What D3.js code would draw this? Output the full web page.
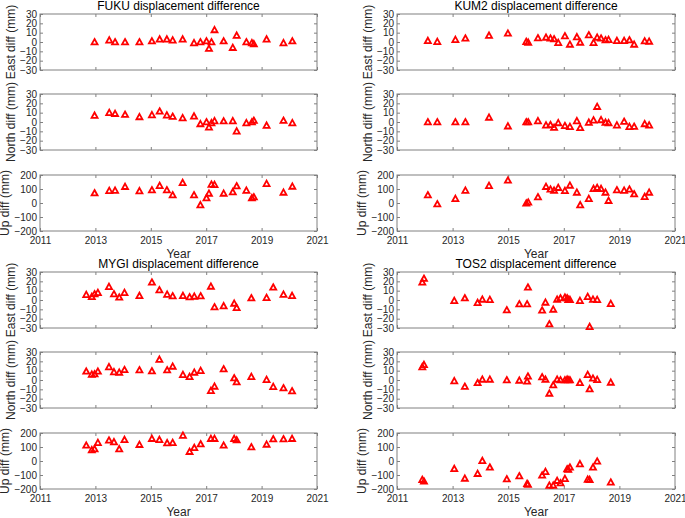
<!DOCTYPE html>
<html>
<head>
<meta charset="utf-8">
<script src="https://cdn.jsdelivr.net/npm/d3@7"></script>
<style>
  body { margin: 0; background: #fff; }
  svg { display: block; font-family: "Liberation Sans", Arial, sans-serif; }
  .tick text { fill: #262626; font-size: 10px; }
  .tick line { stroke: #808080; }
</style>
</head>
<body>
<svg id="chart" width="685" height="518"></svg>
<script>
// Station data (decimal years, mm)
const fukuYears = [2012.97, 2013.50, 2013.71, 2014.07, 2014.59, 2015.04, 2015.32, 2015.58, 2015.79, 2016.15,
  2016.56, 2016.79, 2017.01, 2017.10, 2017.19, 2017.30, 2017.63, 2017.96, 2018.10, 2018.45,
  2018.65, 2018.72, 2019.18, 2019.79, 2020.11];
const fukuEast = [0, 2, 0, 0, 0, 1, 3, 3, 2, 3, -1, 0, 1, -7, 0, 13, 1, -6, 7, 0, -1, -2, 3, -1, 1];
const fukuNorth = [7, 10, 9, 8, 5.5, 7.6, 11.5, 7.3, 5.9, 4.4, 6.2, -2, 0, -5.5, -1, 1.2, 1, 1.2, -9.8, -1, 0, 1.6, -3.7, 1.6, -1];
const fukuUp = [71, 88, 90, 117, 86, 93, 124, 93, 57, 145, 57, -14, 36, 69, 133, 131, 69, 79, 121, 90, 36, 43, 138, 76, 119];

const kum2Years = [2012.11, 2012.45, 2013.10, 2013.46, 2014.31, 2014.99, 2015.65, 2015.72, 2016.07, 2016.36,
  2016.52, 2016.65, 2016.80, 2017.04, 2017.22, 2017.47, 2017.59, 2017.90, 2018.07, 2018.20,
  2018.34, 2018.50, 2018.61, 2018.91, 2019.17, 2019.36, 2019.53, 2019.91, 2020.07];
const kum2East = [1.4, 0.4, 2.5, 4, 7, 9.3, 0.4, -0.4, 4.3, 5, 4, 3.2, -0.7, 6.4, -2.5, 5.4, -0.4, 7.5, -0.7, 5,
  4, 2.1, 2.5, 1.4, 1.4, 2.1, -2.5, 1, 0.7];
const kum2North = [0, 0, 0, 0, 5, -4.4, 0, 0, 1.2, -3.4, -3, -5.9, -0.9, -4, -5, 1.2, -6.2, -0.5, 2, 16.5,
  2.3, -0.5, -0.9, -3.4, 0.5, -5, -4.8, -2, -3.4];
const kum2Up = [57, -7, 31, 90, 124, 162, -2, 5, 43, 117, 98, 90, 110, 88, 126, 76, -14, 31, 102, 110,
  102, 76, 17, 93, 90, 98, 64, 45, 76];

const mygiYears = [2012.67, 2012.87, 2012.97, 2013.09, 2013.49, 2013.67, 2013.86, 2014.05, 2014.59, 2015.04,
  2015.31, 2015.59, 2015.79, 2016.16, 2016.40, 2016.57, 2016.80, 2017.17, 2017.30, 2017.63,
  2018.01, 2018.10, 2018.63, 2019.18, 2019.42, 2019.79, 2020.10];
const mygiEast = [5.7, 3.6, 6.4, 7.9, 14.3, 6.4, 2.9, 7.9, 4.6, 19, 10.7, 6, 4.3, 4.6, 3.2, 3.9, 4.3, 14.6, -7.5, -6.4,
  -3.6, -8.2, 2.1, 2.5, 13.6, 6, 4.6];
const mygiNorth = [9.3, 6, 6.4, 9.3, 14, 8.6, 8.2, 11, 10.7, 9.6, 22, 10.7, 14.6, 5.7, 3.6, 8.2, 10, -11.4, -6.8, 11.8,
  2.1, -2.1, 3.6, 0.4, -7.1, -8.6, -11.8];
const mygiUp = [112, 79, 86, 131, 148, 136, 86, 152, 117, 160, 152, 129, 131, 183, 67, 95, 121, 160, 160, 112,
  160, 150, 100, 119, 157, 157, 160];

const tos2Years = [2011.91, 2011.97, 2013.06, 2013.44, 2013.90, 2014.07, 2014.34, 2014.95, 2015.40, 2015.68,
  2015.71, 2016.22, 2016.34, 2016.48, 2016.62, 2016.76, 2016.88, 2017.04, 2017.12, 2017.16,
  2017.22, 2017.58, 2017.86, 2017.93, 2018.05, 2018.20, 2018.69];
const tos2East = [19, 23, -0.7, 2.1, -2.9, 0.7, 0.4, -10.7, -4.3, -4.3, 13.6, -11, -2.5, -25.7, -10, 0.7, 2.1, 2.9, 2.1, 0.4,
  0.4, -0.7, 3.6, -28.6, 0.7, 0.4, -3.9];
const tos2North = [14, 16.4, -1, -7, -3, 0.7, 0.7, 0, -0.4, -1.4, 4, 3.2, 0.7, -14.3, -5.4, 0.7, 0, 0, 0.7, 0,
  0, -2.9, 5.7, -9.6, 1.8, 0.4, -2.5];
const tos2Up = [-133, -145, -55, -124, -90, 2, -45, -129, -107, -162, -167, -102, -76, -174, -174, -140, -157, -126, -57, -60,
  -45, -21, -131, -133, -45, -2, -152];

const stationNames = ["FUKU", "KUM2", "MYGI", "TOS2"];
const componentLabels = ["East diff (mm)", "North diff (mm)", "Up diff (mm)"];
const xTicks = [2011, 2013, 2015, 2017, 2019, 2021];
const enTicks = [-30, -20, -10, 0, 10, 20, 30];
const upTicks = [-200, -100, 0, 100, 200];

const stations = [
  { name: stationNames[0], years: fukuYears, comps: [fukuEast, fukuNorth, fukuUp] },
  { name: stationNames[1], years: kum2Years, comps: [kum2East, kum2North, kum2Up] },
  { name: stationNames[2], years: mygiYears, comps: [mygiEast, mygiNorth, mygiUp] },
  { name: stationNames[3], years: tos2Years, comps: [tos2East, tos2North, tos2Up] }
];

// layout of the 2x2 grid of stations, each with three stacked panels
const columns = [{ x0: 40, x1: 317 }, { x0: 397, x1: 675 }];
const groupTop = [0, 258];
const panelY = [[14, 70], [94, 150], [175, 231]];
const red = "#ff0000";
const boxColor = "#808080";

const svg = d3.select("#chart");

// triangle marker, same look as MATLAB '^'
const tri = "M0,-3L3,2.4L-3,2.4Z";

stations.forEach((st, si) => {
  const col = columns[si % 2];
  const top = groupTop[Math.floor(si / 2)];
  const g = svg.append("g");

  const x = d3.scaleLinear().domain([2011, 2021]).range([col.x0, col.x1]);

  // title
  g.append("text")
    .attr("x", (col.x0 + col.x1) / 2)
    .attr("y", top + 9.5)
    .attr("text-anchor", "middle")
    .attr("font-size", 12)
    .attr("fill", "#000")
    .text(`${st.name} displacement difference`);

  st.comps.forEach((vals, ci) => {
    const [py0, py1] = panelY[ci].map((v) => v + top);
    const isUp = ci === 2;
    const ticks = isUp ? upTicks : enTicks;
    const y = d3.scaleLinear().domain([ticks[0], ticks[ticks.length - 1]]).range([py1, py0]);

    const axes = g.append("g");

    // bottom axis (labels only on the Up panel)
    axes.append("g")
      .attr("transform", `translate(0, ${py1})`)
      .call(d3.axisBottom(x).tickValues(xTicks).tickSize(-3).tickSizeOuter(0).tickPadding(5.5)
        .tickFormat(isUp ? d3.format("d") : () => ""));
    // top axis, ticks only
    axes.append("g")
      .attr("transform", `translate(0, ${py0})`)
      .call(d3.axisTop(x).tickValues(xTicks).tickSize(-3).tickSizeOuter(0).tickFormat(() => ""));
    // left axis
    axes.append("g")
      .attr("transform", `translate(${col.x0}, 0)`)
      .call(d3.axisLeft(y).tickValues(ticks).tickSize(-3).tickSizeOuter(0).tickPadding(3));
    // right axis, ticks only
    axes.append("g")
      .attr("transform", `translate(${col.x1}, 0)`)
      .call(d3.axisRight(y).tickValues(ticks).tickSize(-3).tickSizeOuter(0).tickFormat(() => ""));

    axes.selectAll(".domain").remove();
    axes.selectAll("text").attr("font-family", null).attr("font-size", null);

    // box
    g.append("rect")
      .attr("x", col.x0)
      .attr("y", py0)
      .attr("width", col.x1 - col.x0)
      .attr("height", py1 - py0)
      .attr("fill", "none")
      .attr("stroke", boxColor)
      .attr("stroke-width", 1);

    // y label
    const lx = col.x0 - (isUp ? 31 : 25);
    g.append("text")
      .attr("transform", `translate(${lx}, ${(py0 + py1) / 2}) rotate(-90)`)
      .attr("text-anchor", "middle")
      .attr("font-size", 12)
      .attr("fill", "#262626")
      .text(componentLabels[ci]);

    // markers
    g.append("g")
      .selectAll("path")
      .data(st.years.map((yr, i) => ({ yr, v: vals[i] })))
      .join("path")
      .attr("d", tri)
      .attr("transform", (d) => `translate(${x(d.yr)}, ${y(d.v)})`)
      .attr("fill", "none")
      .attr("stroke", red)
      .attr("stroke-width", 1.8)
      .attr("stroke-linejoin", "miter");

    if (isUp) {
      g.append("text")
        .attr("x", (col.x0 + col.x1) / 2)
        .attr("y", py1 + 26.5)
        .attr("text-anchor", "middle")
        .attr("font-size", 12)
        .attr("fill", "#262626")
        .text("Year");
    }
  });
});
</script>
</body>
</html>
